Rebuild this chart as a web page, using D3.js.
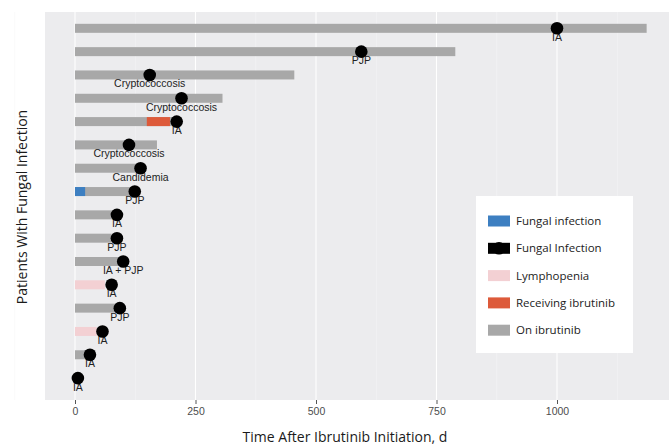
<!DOCTYPE html>
<html>
<head>
<meta charset="utf-8">
<script src="https://cdn.jsdelivr.net/npm/d3@7"></script>
<style>
  body { margin: 0; background: #fff; }
  svg { display: block; }
</style>
</head>
<body>
<div id="chart"></div>
<script>
// patients listed top to bottom
var infectionType = ["IA", "PJP", "Cryptococcosis", "Cryptococcosis", "IA", "Cryptococcosis", "Candidemia", "PJP",
  "IA", "PJP", "IA + PJP", "IA", "PJP", "IA", "IA", "IA"];
var infectionDay = [1000, 594, 155, 221, 211, 112, 136, 124, 87, 87, 100, 76, 93, 57, 31, 6];
var onIbrutinibEnd = [1186, 789, 455, 306, 211, 170, 140, 124, 85, 76, 97, 0, 93, 0, 31, 0];

// extra segments (row index, start day, end day)
var receivingRow = [4], receivingFrom = [149], receivingTo = [197];
var lymphoRow = [11, 13], lymphoFrom = [0, 0], lymphoTo = [62, 45];
var earlyRow = [7], earlyFrom = [0], earlyTo = [21];

var xTicks = [0, 250, 500, 750, 1000];
var xMinor = [-125, 125, 375, 625, 875, 1125];

var legendLabels = ["Fungal infection", "Fungal Infection", "Lymphopenia", "Receiving ibrutinib", "On ibrutinib"];
var legendColors = ["#3d7fc1", "#000000", "#f3d0d3", "#dd5a3a", "#a8a8a8"];

var W = 669, H = 445;
var panel = {left: 45, right: 669, top: 12, bottom: 400};

var svg = d3.select("#chart").append("svg").attr("width", W).attr("height", H);

var x = d3.scaleLinear().domain([0, 1000]).range([75, 557]);
var y = d3.scaleLinear().domain([16.7, 0.06]).range([panel.top, panel.bottom]);
var rowY = function(i) { return y(16 - i); };

// panel
svg.append("rect").attr("x", panel.left).attr("y", panel.top)
  .attr("width", panel.right - panel.left).attr("height", panel.bottom - panel.top)
  .attr("fill", "#ececee");

svg.append("g").selectAll("line").data(xMinor).enter().append("line")
  .attr("x1", x).attr("x2", x).attr("y1", panel.top).attr("y2", panel.bottom)
  .attr("stroke", "#f7f7f7").attr("stroke-width", 0.6);
svg.append("g").selectAll("line").data(xTicks).enter().append("line")
  .attr("x1", x).attr("x2", x).attr("y1", panel.top).attr("y2", panel.bottom)
  .attr("stroke", "#fff").attr("stroke-width", 1.1);

var bh = 9;
function seg(rowsArr, from, to, col) {
  svg.append("g").selectAll("rect").data(rowsArr).enter().append("rect")
    .attr("x", function(d, i) { return x(from[i]); })
    .attr("width", function(d, i) { return x(to[i]) - x(from[i]); })
    .attr("y", function(d) { return rowY(d) - bh / 2; })
    .attr("height", bh)
    .attr("fill", col);
}

// on ibrutinib bars
seg(d3.range(16), d3.range(16).map(function() { return 0; }), onIbrutinibEnd, legendColors[4]);
seg(lymphoRow, lymphoFrom, lymphoTo, legendColors[2]);
seg(receivingRow, receivingFrom, receivingTo, legendColors[3]);
seg(earlyRow, earlyFrom, earlyTo, legendColors[0]);

// labels
svg.append("g").selectAll("text").data(infectionType).enter().append("text")
  .attr("x", function(d, i) { return x(infectionDay[i]); })
  .attr("y", function(d, i) { return rowY(i) + 12.5; })
  .attr("text-anchor", "middle")
  .style("font-family", "Liberation Sans, Arial, sans-serif")
  .style("font-size", "10.5px")
  .attr("fill", "#222")
  .text(function(d) { return d; });

// infection dots
svg.append("g").selectAll("circle").data(infectionDay).enter().append("circle")
  .attr("cx", function(d) { return x(d); })
  .attr("cy", function(d, i) { return rowY(i); })
  .attr("r", 6.3)
  .attr("fill", "#000");

// x axis
var xAxis = svg.append("g").attr("transform", "translate(0," + panel.bottom + ")")
  .call(d3.axisBottom(x).tickValues(xTicks).tickSize(4).tickPadding(4).tickFormat(d3.format("d")));
xAxis.select(".domain").remove();
xAxis.selectAll("line").attr("stroke", "#555");
xAxis.selectAll("text").style("font-family", "Liberation Sans, Arial, sans-serif")
  .style("font-size", "10.5px").attr("fill", "#4d4d4d");

svg.append("text").attr("x", 345).attr("y", 442).attr("text-anchor", "middle")
  .style("font-family", "Open Sans, sans-serif").style("font-size", "14px").attr("fill", "#1a1a1a")
  .text("Time After Ibrutinib Initiation, d");

svg.append("text").attr("transform", "translate(27,207) rotate(-90)").attr("text-anchor", "middle")
  .style("font-family", "Open Sans, sans-serif").style("font-size", "14px").attr("fill", "#1a1a1a")
  .text("Patients With Fungal Infection");

// legend
var lg = svg.append("g");
lg.append("rect").attr("x", 476).attr("y", 196).attr("width", 157).attr("height", 157).attr("fill", "#fff");
var item = lg.selectAll("g.item").data(legendLabels).enter().append("g").attr("class", "item")
  .attr("transform", function(d, i) { return "translate(488," + (221 + i * 27.3) + ")"; });
item.append("rect").attr("x", 0).attr("y", -5.5).attr("width", 22).attr("height", 11)
  .attr("fill", function(d, i) { return legendColors[i]; });
item.filter(function(d, i) { return i === 1; }).append("circle")
  .attr("cx", 11).attr("cy", 0).attr("r", 6.3).attr("fill", "#000");
item.append("text").attr("x", 28).attr("y", 4)
  .style("font-family", "Open Sans, sans-serif").style("font-size", "11.5px").attr("fill", "#222")
  .text(function(d) { return d; });
</script>
</body>
</html>
